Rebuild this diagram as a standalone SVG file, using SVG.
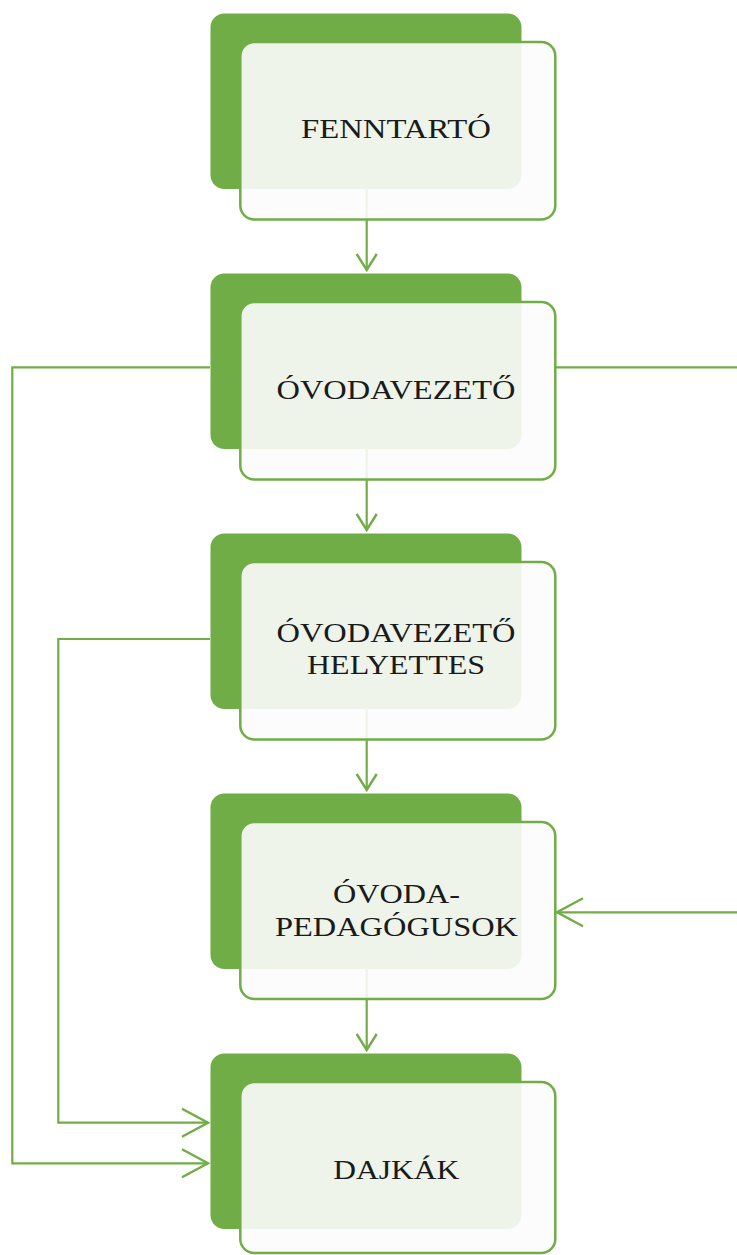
<svg xmlns="http://www.w3.org/2000/svg" width="737" height="1255" viewBox="0 0 737 1255">
<style>
.back{fill:#70AD47}
.front{fill:#FCFCFC;fill-opacity:0.9;stroke:#70AD47;stroke-width:2.5}
.lbl{font-family:"Liberation Serif","DejaVu Serif",serif;font-size:28px;fill:#1a1a1a;text-anchor:middle}
.conn{fill:none;stroke:#70AD47;stroke-width:2.2}
</style>
<defs>
<marker id="arrS" markerUnits="userSpaceOnUse" markerWidth="22" markerHeight="26" refX="18" refY="12" orient="auto" overflow="visible">
<path d="M2,2 L18,12 L2,22" fill="none" stroke="#70AD47" stroke-width="2.4"/>
</marker>
<marker id="arrL" markerUnits="userSpaceOnUse" markerWidth="32" markerHeight="34" refX="28" refY="16" orient="auto" overflow="visible">
<path d="M2,2 L28,16 L2,30" fill="none" stroke="#70AD47" stroke-width="2.4"/>
</marker>
</defs>
<rect width="737" height="1255" fill="#FFFFFF"/>
<g id="connectors">
<path class="conn" d="M366.7,189 V270" marker-end="url(#arrS)"/>
<path class="conn" d="M366.7,449 V530" marker-end="url(#arrS)"/>
<path class="conn" d="M366.7,709 V790" marker-end="url(#arrS)"/>
<path class="conn" d="M366.7,969 V1050" marker-end="url(#arrS)"/>
<path class="conn" d="M210,367.3 H12.3 V1163.3 H208" marker-end="url(#arrL)"/>
<path class="conn" d="M210,639 H58.3 V1122.7 H208" marker-end="url(#arrL)"/>
<path class="conn" d="M555,367.3 H748 V912.3 H557" marker-end="url(#arrL)"/>
</g>
<g id="node-fenntarto">
<rect class="back" x="210.5" y="13.5" width="311" height="175.5" rx="14"/>
<rect class="front" x="240.3" y="42" width="315" height="177.5" rx="14"/>
<text class="lbl" x="396" y="138" textLength="190" lengthAdjust="spacingAndGlyphs">FENNTARTÓ</text>
</g>
<g id="node-ovodavezeto">
<rect class="back" x="210.5" y="273.5" width="311" height="175.5" rx="14"/>
<rect class="front" x="240.3" y="302" width="315" height="177.5" rx="14"/>
<text class="lbl" x="396" y="399" textLength="239" lengthAdjust="spacingAndGlyphs">ÓVODAVEZETŐ</text>
</g>
<g id="node-helyettes">
<rect class="back" x="210.5" y="533.5" width="311" height="175.5" rx="14"/>
<rect class="front" x="240.3" y="562" width="315" height="177.5" rx="14"/>
<text class="lbl" x="396" y="641.7" textLength="239" lengthAdjust="spacingAndGlyphs">ÓVODAVEZETŐ</text>
<text class="lbl" x="396" y="674.3" textLength="178" lengthAdjust="spacingAndGlyphs">HELYETTES</text>
</g>
<g id="node-pedagogusok">
<rect class="back" x="210.5" y="793.5" width="311" height="175.5" rx="14"/>
<rect class="front" x="240.3" y="822" width="315" height="177" rx="14"/>
<text class="lbl" x="396.5" y="903.3" textLength="127" lengthAdjust="spacingAndGlyphs">ÓVODA-</text>
<text class="lbl" x="396.5" y="936" textLength="243" lengthAdjust="spacingAndGlyphs">PEDAGÓGUSOK</text>
</g>
<g id="node-dajkak">
<rect class="back" x="210.5" y="1053.5" width="311" height="175.5" rx="14"/>
<rect class="front" x="240.3" y="1082" width="315" height="171" rx="14"/>
<text class="lbl" x="396.3" y="1179.3" textLength="126" lengthAdjust="spacingAndGlyphs">DAJKÁK</text>
</g>
</svg>
